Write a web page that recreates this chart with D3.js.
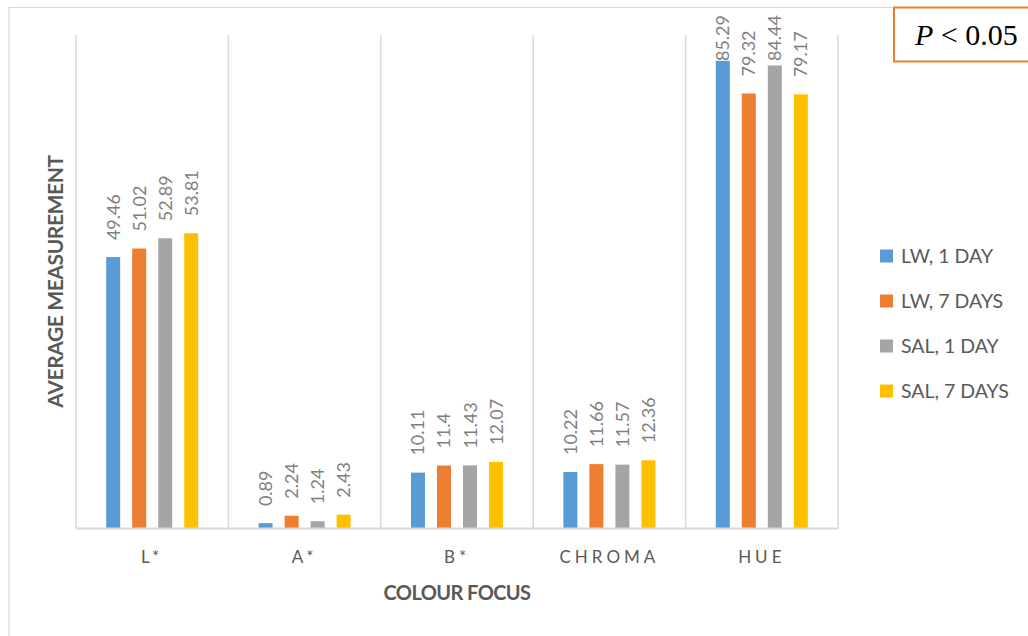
<!DOCTYPE html>
<html>
<head>
<meta charset="utf-8">
<script src="https://cdn.jsdelivr.net/npm/d3@7"></script>
<style>
  html, body { margin: 0; padding: 0; background: #fff; }
  svg { display: block; }
  text { font-family: "Lato", "Open Sans", sans-serif; }
</style>
</head>
<body>
<svg id="chart" width="1028" height="636"></svg>
<script>
// Colour measurements per category and treatment group
const categories = ["L*", "A*", "B*", "CHROMA", "HUE"];
const seriesNames = ["LW, 1 DAY", "LW, 7 DAYS", "SAL, 1 DAY", "SAL, 7 DAYS"];
const lw1 = [49.46, 0.89, 10.11, 10.22, 85.29];
const lw7 = [51.02, 2.24, 11.4, 11.66, 79.32];
const sal1 = [52.89, 1.24, 11.43, 11.57, 84.44];
const sal7 = [53.81, 2.43, 12.07, 12.36, 79.17];
const seriesValues = [lw1, lw7, sal1, sal7];
const seriesColors = ["#5B9BD5", "#ED7D31", "#A5A5A5", "#FFC000"];
const yDomain = [0, 90];

const svg = d3.select("#chart");

// Outer chart frame
svg.append("path")
  .attr("d", "M9,640 V7.5 H1030")
  .attr("fill", "none")
  .attr("stroke", "#d9d9d9")
  .attr("stroke-width", 1.2);

const plot = { left: 76, right: 838, top: 35, bottom: 528 };
const labelTopLimit = 15;

const x0 = d3.scaleBand()
  .domain(categories)
  .range([plot.left, plot.right])
  .paddingInner(0)
  .paddingOuter(0);

const x1 = d3.scaleBand()
  .domain(seriesNames)
  .range([0, x0.bandwidth()])
  .paddingInner(12 / 26)
  .paddingOuter(1.16);

const y = d3.scaleLinear().domain(yDomain).range([plot.bottom, plot.top]);

// Vertical category separators
const bounds = categories.map(c => x0(c)).concat([plot.right]);
svg.append("g").selectAll("line")
  .data(bounds)
  .join("line")
  .attr("x1", d => d).attr("x2", d => d)
  .attr("y1", plot.top).attr("y2", plot.bottom)
  .attr("stroke", "#d9d9d9")
  .attr("stroke-width", 1.5);

// Bars
const groups = svg.append("g").selectAll("g")
  .data(seriesNames)
  .join("g")
  .attr("fill", (d, i) => seriesColors[i]);

const cells = (s, si) => categories.map((c, ci) => ({ c, s, v: seriesValues[si][ci] }));

groups.selectAll("rect")
  .data(cells)
  .join("rect")
  .attr("x", d => x0(d.c) + x1(d.s))
  .attr("width", x1.bandwidth())
  .attr("y", d => y(d.v))
  .attr("height", d => y(0) - y(d.v));

// Rotated value labels, pushed down when they would leave the chart area
groups.selectAll("text")
  .data(cells)
  .join("text")
  .attr("fill", "#7f7f7f")
  .attr("font-size", 18)
  .attr("text-anchor", "start")
  .text(d => d.v)
  .each(function (d) {
    const len = this.getComputedTextLength();
    const start = Math.max(y(d.v) - 17, labelTopLimit + len);
    const cx = x0(d.c) + x1(d.s) + x1.bandwidth() / 2 + 6.5;
    d3.select(this).attr("transform", `translate(${cx},${start}) rotate(-90)`);
  });

// Baseline axis with category labels
const xAxis = svg.append("g")
  .attr("transform", `translate(0,${plot.bottom})`)
  .call(d3.axisBottom(x0).tickSize(0).tickPadding(0).tickFormat(d => d));
xAxis.select(".domain").attr("stroke", "#d9d9d9").attr("stroke-width", 2);
xAxis.selectAll("text")
  .attr("dy", null)
  .attr("y", 35)
  .attr("fill", "#595959")
  .attr("font-size", 17)
  .attr("letter-spacing", "4px")
  .style("font-family", "Lato, sans-serif");

// Axis titles
svg.append("text")
  .attr("x", (plot.left + plot.right) / 2)
  .attr("y", 600)
  .attr("text-anchor", "middle")
  .attr("fill", "#595959")
  .attr("font-size", 20)
  .attr("font-weight", "bold")
  .attr("letter-spacing", "-0.6px")
  .text("COLOUR FOCUS");

svg.append("text")
  .attr("transform", `translate(63,${(plot.top + plot.bottom) / 2}) rotate(-90)`)
  .attr("text-anchor", "middle")
  .attr("fill", "#595959")
  .attr("font-size", 21)
  .attr("font-weight", "bold")
  .attr("letter-spacing", "-0.4px")
  .text("AVERAGE MEASUREMENT");

// Legend
const legend = svg.append("g").selectAll("g")
  .data(seriesNames)
  .join("g")
  .attr("transform", (d, i) => `translate(880,${256 + i * 45})`);
legend.append("rect")
  .attr("x", 0).attr("y", -6.5)
  .attr("width", 13).attr("height", 13)
  .attr("fill", (d, i) => seriesColors[i]);
legend.append("text")
  .attr("x", 21).attr("y", 7)
  .attr("fill", "#595959")
  .attr("font-size", 19.5)
  .text(d => d);

// Significance box
svg.append("rect")
  .attr("x", 894).attr("y", 7.5)
  .attr("width", 140).attr("height", 54)
  .attr("fill", "#fff")
  .attr("stroke", "#ED7D31")
  .attr("stroke-width", 2);
const p = svg.append("text")
  .attr("x", 915).attr("y", 45)
  .attr("fill", "#000")
  .attr("font-size", 30)
  .style("font-family", "'Liberation Serif', 'DejaVu Serif', serif");
p.append("tspan").attr("font-style", "italic").text("P");
p.append("tspan").text(" < 0.05");
</script>
</body>
</html>
